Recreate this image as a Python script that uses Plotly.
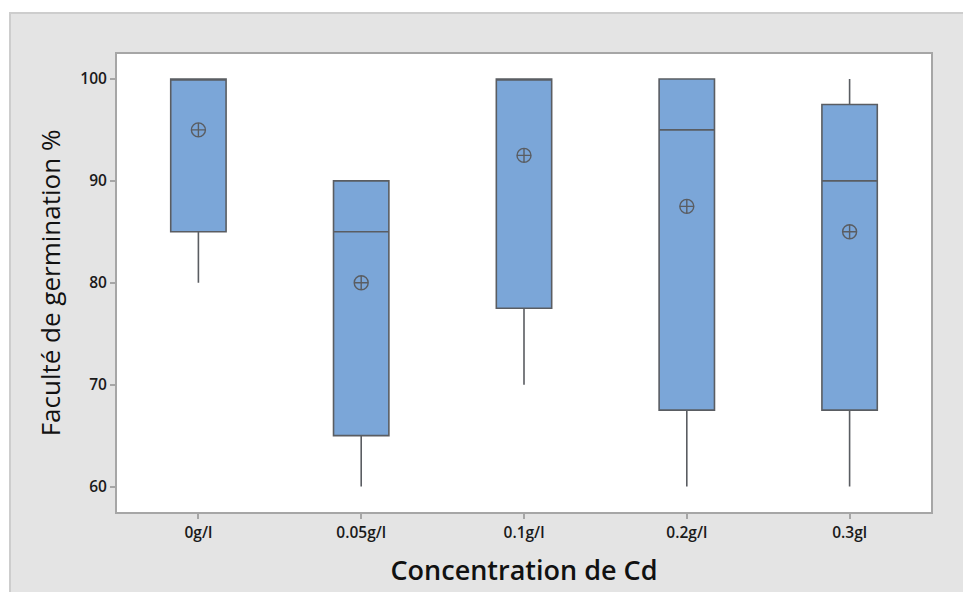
import plotly.graph_objects as go

# Germination capacity by cadmium concentration (summary statistics per group)
categories = ["0g/l", "0.05g/l", "0.1g/l", "0.2g/l", "0.3gl"]
q1_vals = [85, 65, 77.5, 67.5, 67.5]
median_vals = [100, 85, 100, 95, 90]
q3_vals = [100, 90, 100, 100, 97.5]
low_whisker = [80, 60, 70, 60, 60]
high_whisker = [100, 90, 100, 100, 100]
mean_vals = [95, 80, 92.5, 87.5, 85]
y_ticks = [60, 70, 80, 90, 100]

BOX_FILL = "#7BA6D8"
LINE_DARK = "#5A5D62"
AXIS_GRAY = "#A6A6A6"
PANEL_GRAY = "#E4E4E4"

fig = go.Figure()

fig.add_trace(go.Box(
    x=categories,
    q1=q1_vals,
    median=median_vals,
    q3=q3_vals,
    lowerfence=low_whisker,
    upperfence=high_whisker,
    width=0.34,
    whiskerwidth=0,
    fillcolor=BOX_FILL,
    line=dict(color=LINE_DARK, width=1.6),
    boxpoints=False,
    showlegend=False,
    hoverinfo="skip",
))

fig.add_trace(go.Scatter(
    x=categories,
    y=mean_vals,
    mode="markers",
    marker=dict(symbol="circle-cross-open", size=14,
                color=LINE_DARK, line=dict(width=1.4, color=LINE_DARK)),
    showlegend=False,
    hoverinfo="skip",
))

# plot-area pixel geometry used to place the grey frame behind it
W, H = 963, 592
ml, mr, mt, mb = 117, W - 931, 54, H - 512
pw, ph = W - ml - mr, H - mt - mb

def px_to_paper_x(px):
    return (px - ml) / pw

def px_to_paper_y(py):
    return (H - mb - py) / ph

fig.update_layout(
    width=W, height=H,
    margin=dict(l=ml, r=mr, t=mt, b=mb),
    paper_bgcolor="white",
    plot_bgcolor="white",
    font=dict(family="Open Sans", color="#1a1a1a"),
    shapes=[
        dict(type="rect", xref="paper", yref="paper", layer="below",
             x0=px_to_paper_x(10), x1=px_to_paper_x(W + 5),
             y0=px_to_paper_y(H + 5), y1=px_to_paper_y(13),
             fillcolor=PANEL_GRAY, line=dict(color="#CDCDCD", width=2)),
        dict(type="rect", xref="paper", yref="paper", layer="below",
             x0=0, x1=1, y0=0, y1=1,
             fillcolor="white", line=dict(width=0)),
    ],
    xaxis=dict(
        type="category",
        range=[-0.5, 4.5],
        showgrid=False, zeroline=False,
        showline=True, linecolor=AXIS_GRAY, linewidth=2, mirror=True,
        ticks="outside", ticklen=5, tickcolor=AXIS_GRAY, tickwidth=1.5,
        tickfont=dict(size=15.5, weight=600, color="#1a1a1a"),
        title=dict(text="Concentration de Cd", standoff=20,
                   font=dict(size=27, weight=600, color="#111")),
    ),
    yaxis=dict(
        range=[57.5, 102.45],
        tickvals=y_ticks,
        showgrid=False, zeroline=False,
        showline=True, linecolor=AXIS_GRAY, linewidth=2, mirror=True,
        ticks="outside", ticklen=5, tickcolor=AXIS_GRAY, tickwidth=1.5,
        tickfont=dict(size=15.5, weight=600, color="#1a1a1a"),
        title=dict(text="Faculté de germination %", standoff=12,
                   font=dict(size=26, weight=500, color="#111")),
    ),
)

fig.write_html("out.html")
